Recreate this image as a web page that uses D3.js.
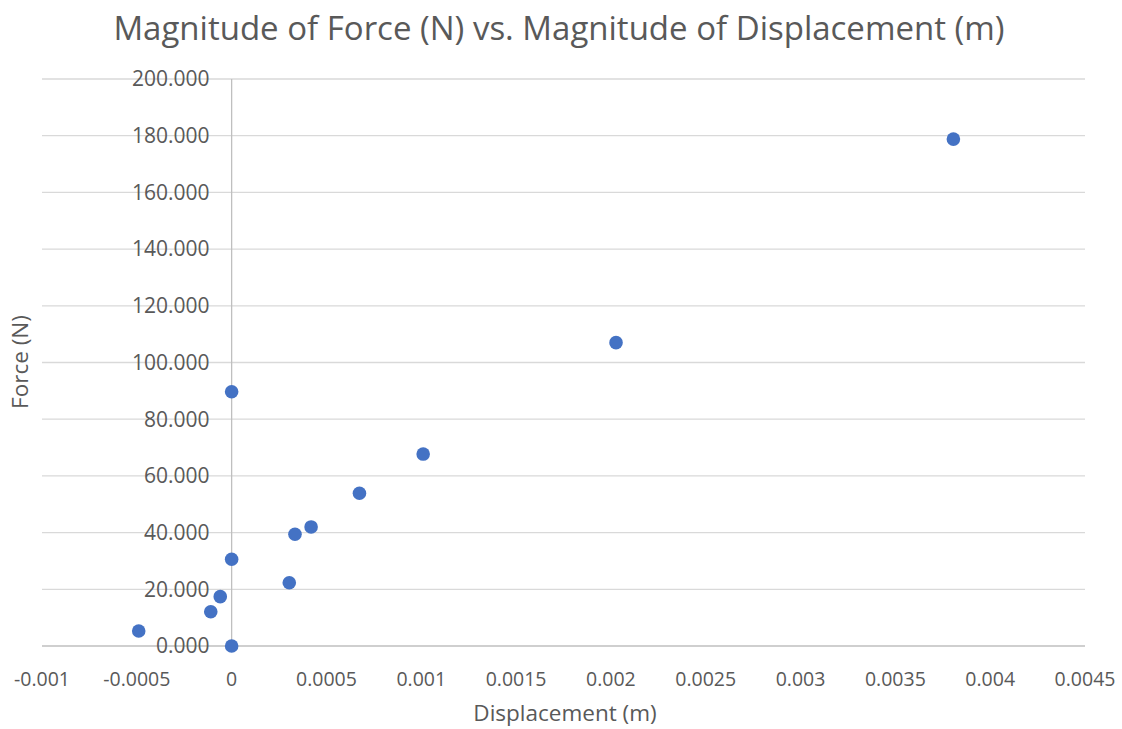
<!DOCTYPE html>
<html>
<head>
<meta charset="utf-8">
<script src="https://cdn.jsdelivr.net/npm/d3@7"></script>
<style>
  body { margin: 0; background: #fff; }
  text { font-family: "Open Sans", sans-serif; fill: #595959; }
</style>
</head>
<body>
<svg id="chart" width="1122" height="729"></svg>
<script>
// displacement (m) and force (N)
const displacement = [-0.00049, -0.00011, -0.00006, 0, 0, 0, 0.000304, 0.000334, 0.000419, 0.000674, 0.00101, 0.002027, 0.003806];
const force = [5.3, 12.1, 17.4, 0, 89.7, 30.6, 22.3, 39.4, 42.0, 53.9, 67.7, 107.0, 178.8];

const xTicks = [-0.001, -0.0005, 0, 0.0005, 0.001, 0.0015, 0.002, 0.0025, 0.003, 0.0035, 0.004, 0.0045];
const yTicks = [0, 20, 40, 60, 80, 100, 120, 140, 160, 180, 200];

const titleText = "Magnitude of Force (N) vs. Magnitude of Displacement (m)";
const xTitle = "Displacement (m)";
const yTitle = "Force (N)";

const svg = d3.select("#chart");
const plotLeft = 42, plotRight = 1085, plotTop = 79, plotBottom = 646;

const x = d3.scaleLinear().domain([-0.001, 0.0045]).range([plotLeft, plotRight]);
const y = d3.scaleLinear().domain([0, 200]).range([plotBottom, plotTop]);

// horizontal gridlines
svg.append("g")
  .selectAll("line")
  .data(yTicks)
  .join("line")
  .attr("x1", plotLeft)
  .attr("x2", plotRight)
  .attr("y1", d => y(d))
  .attr("y2", d => y(d))
  .attr("stroke", d => d === 0 ? "#bfbfbf" : "#d9d9d9")
  .attr("stroke-width", 1.3);

// vertical axis line at x = 0
svg.append("line")
  .attr("x1", x(0)).attr("x2", x(0))
  .attr("y1", plotTop).attr("y2", plotBottom)
  .attr("stroke", "#bfbfbf")
  .attr("stroke-width", 1.3);

// y tick labels (sit next to the x=0 axis)
svg.append("g")
  .selectAll("text")
  .data(yTicks)
  .join("text")
  .attr("x", x(0) - 22)
  .attr("y", d => y(d))
  .attr("dy", "0.35em")
  .attr("text-anchor", "end")
  .attr("font-size", 21)
  .text(d => d3.format(".3f")(d));

// x tick labels
svg.append("g")
  .selectAll("text")
  .data(xTicks)
  .join("text")
  .attr("x", d => x(d))
  .attr("y", 679)
  .attr("dy", "0.35em")
  .attr("text-anchor", "middle")
  .attr("font-size", 19.5)
  .text(d => d === 0 ? "0" : String(d));

// points
svg.append("g")
  .selectAll("circle")
  .data(displacement.map((d, i) => [d, force[i]]))
  .join("circle")
  .attr("cx", d => x(d[0]))
  .attr("cy", d => y(d[1]))
  .attr("r", 6.8)
  .attr("fill", "#4472c4");

// titles
svg.append("text")
  .attr("x", 559)
  .attr("y", 28)
  .attr("dy", "0.35em")
  .attr("text-anchor", "middle")
  .attr("font-size", 33)
  .text(titleText);

svg.append("text")
  .attr("x", 565)
  .attr("y", 713)
  .attr("dy", "0.35em")
  .attr("text-anchor", "middle")
  .attr("font-size", 22.5)
  .text(xTitle);

svg.append("text")
  .attr("transform", "translate(20,362) rotate(-90)")
  .attr("dy", "0.35em")
  .attr("text-anchor", "middle")
  .attr("font-size", 22.5)
  .text(yTitle);
</script>
</body>
</html>
